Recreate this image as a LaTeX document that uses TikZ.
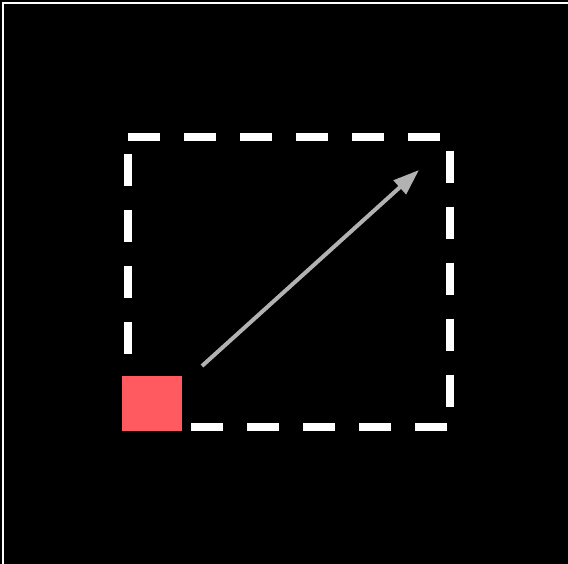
\documentclass[tikz,border=0pt]{standalone}
\usetikzlibrary{arrows.meta}
\definecolor{boxred}{RGB}{255,90,95}
\definecolor{arrowgray}{RGB}{178,178,178}
\tikzset{
  framebox/.style={draw=white, line width=8pt, dash pattern=on 32pt off 24pt, line cap=butt},
  redsq/.style={fill=boxred, draw=none, minimum width=60pt, minimum height=55pt, inner sep=0pt, outer sep=0pt},
  movearrow/.style={draw=arrowgray, line width=4pt, -{Triangle[length=26pt,width=18pt]}},
  borderline/.style={draw=white, line width=1.5pt}
}
\begin{document}
\begin{tikzpicture}[x=1pt,y=-1pt]
  \fill[black] (0,0) rectangle (568,564);
  \useasboundingbox (0,0) rectangle (568,564);
  % outer frame (only top and left visible)
  \draw[borderline] (3,564) -- (3,3) -- (568,3);
  % dashed region
  \draw[framebox] (128,136.7) -- (450,136.7) -- (450,427.3) -- (128,427.3) -- cycle;
  % red square
  \node[redsq, anchor=north west] (sq) at (122,376) {};
  % arrow
  \coordinate (start) at (202,366);
  \coordinate (tip) at (419,170);
  \draw[movearrow] (start) -- (tip);
\end{tikzpicture}
\end{document}
